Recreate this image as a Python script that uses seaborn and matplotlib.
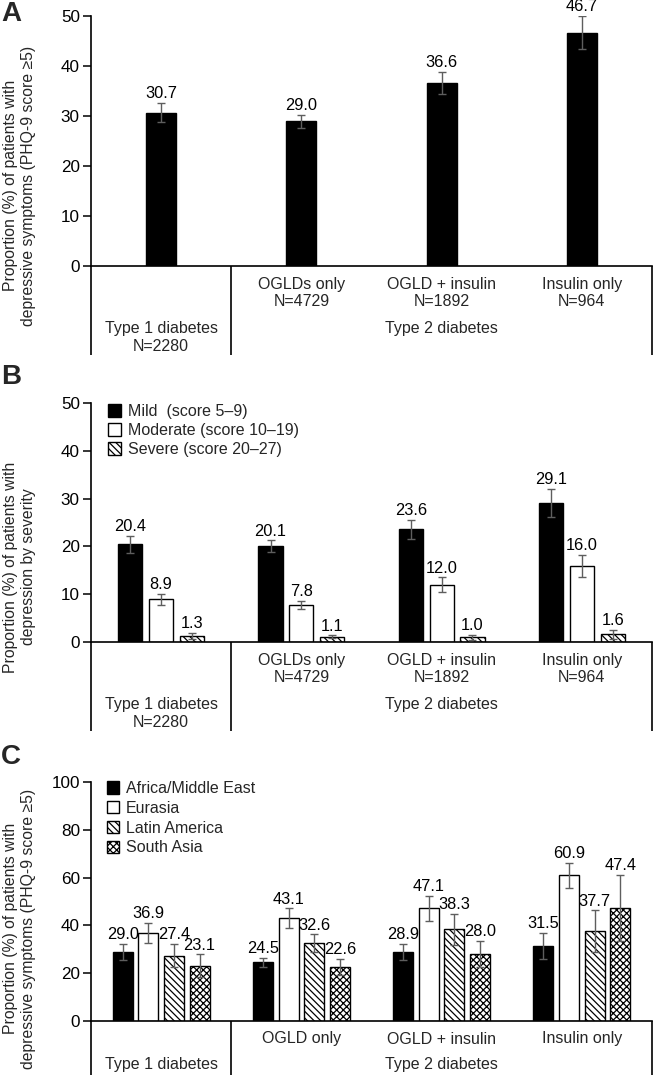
import numpy as np
import pandas as pd
import matplotlib
matplotlib.use("Agg")
import matplotlib.pyplot as plt
from matplotlib.patches import Patch
import seaborn as sns

# ---------------- data ----------------
groups_ab = ["Type 1 diabetes", "OGLDs only", "OGLD + insulin", "Insulin only"]
n_ab = ["N=2280", "N=4729", "N=1892", "N=964"]
groups_c = ["Type 1 diabetes", "OGLD only", "OGLD + insulin", "Insulin only"]
type2_label = "Type 2 diabetes"

a_values = [30.7, 29.0, 36.6, 46.7]
a_errors = [1.9, 1.3, 2.2, 3.3]

severity_labels = ["Mild  (score 5–9)", "Moderate (score 10–19)", "Severe (score 20–27)"]
mild = [20.4, 20.1, 23.6, 29.1]
mild_err = [1.8, 1.2, 2.0, 3.0]
moderate = [8.9, 7.8, 12.0, 16.0]
moderate_err = [1.2, 0.8, 1.5, 2.3]
severe = [1.3, 1.1, 1.0, 1.6]
severe_err = [0.6, 0.3, 0.5, 0.9]

region_labels = ["Africa/Middle East", "Eurasia", "Latin America", "South Asia"]
africa = [29.0, 24.5, 28.9, 31.5]
africa_err = [3.4, 2.0, 3.5, 5.4]
eurasia = [36.9, 43.1, 47.1, 60.9]
eurasia_err = [4.2, 4.0, 5.2, 5.4]
latin = [27.4, 32.6, 38.3, 37.7]
latin_err = [5.0, 3.7, 6.6, 8.7]
south_asia = [23.1, 22.6, 28.0, 47.4]
south_asia_err = [4.8, 3.4, 5.6, 13.8]

ylabel_a = "Proportion (%) of patients with\ndepressive symptoms (PHQ-9 score ≥5)"
ylabel_b = "Proportion (%) of patients with\ndepression by severity"
ylabel_c = "Proportion (%) of patients with\ndepressive symptoms (PHQ-9 score ≥5)"

# ---------------- style ----------------
sns.set_style("ticks")
plt.rcParams["font.family"] = ["Liberation Sans", "DejaVu Sans"]
plt.rcParams["hatch.linewidth"] = 0.9
plt.rcParams["hatch.color"] = "black"

W, H, DPI = 653, 1075, 100
fig = plt.figure(figsize=(W / DPI, H / DPI), dpi=DPI)

LEFT, RIGHT = 91, 652
def add_axes(top_px, bottom_px):
    return fig.add_axes([LEFT / W, 1 - bottom_px / H, (RIGHT - LEFT) / W,
                         (bottom_px - top_px) / H])

axA = add_axes(16, 266)
axB = add_axes(403, 642)
axC = add_axes(782, 1021)

ERR_KW = dict(fmt="none", ecolor="#5e5e5e", elinewidth=1.0, capsize=3,
              capthick=1.0, zorder=5)
FS = 11.5


def style_axis(ax, ymax, step):
    ax.set_xlim(-0.5, 3.5)
    ax.set_ylim(0, ymax)
    ax.set_yticks(np.arange(0, ymax + 1, step))
    ax.set_xlabel("")
    ax.set_ylabel("")
    for s in ["top", "right"]:
        ax.spines[s].set_visible(False)
    for s in ["left", "bottom"]:
        ax.spines[s].set_linewidth(1.2)
        ax.spines[s].set_color("black")
    ax.tick_params(axis="y", length=5.5, width=1.1, labelsize=12.3, pad=2.5,
                   direction="out", colors="black")
    ax.tick_params(axis="x", length=0, labelbottom=False)


def errors_and_labels(ax, err_lists):
    for cont, errs in zip(ax.containers, err_lists):
        for bar, e in zip(cont, errs):
            cx = bar.get_x() + bar.get_width() / 2
            h = bar.get_height()
            ax.errorbar(cx, h, yerr=e, **ERR_KW)
            ax.annotate(f"{h:.1f}", (cx, h + e), xytext=(0, 3.3),
                        textcoords="offset points", ha="center", va="baseline",
                        fontsize=11.8, color="black", zorder=6)


def table(ax, depth_px):
    ah = ax.get_position().height * H
    tr = ax.get_xaxis_transform()
    for x in [-0.5, 0.5, 3.5]:
        ax.plot([x, x], [0, -depth_px / ah], transform=tr, color="black",
                lw=1.2, clip_on=False, solid_capstyle="butt")
    return ah, tr


def table_ab(ax):
    ah, tr = table(ax, 89)
    for i in range(1, 4):
        ax.text(i, -27 / ah, f"{groups_ab[i]}\n{n_ab[i]}", transform=tr,
                ha="center", va="center", fontsize=FS, linespacing=1.2)
    ax.text(0, -71.5 / ah, f"{groups_ab[0]}\n{n_ab[0]}", transform=tr,
            ha="center", va="center", fontsize=FS, linespacing=1.2)
    ax.text(2, -62 / ah, type2_label, transform=tr, ha="center", va="center",
            fontsize=FS)


def table_c(ax):
    ah, tr = table(ax, 56)
    for i in range(1, 4):
        ax.text(i, -18 / ah, groups_c[i], transform=tr, ha="center",
                va="center", fontsize=FS)
    ax.text(0, -43 / ah, groups_c[0], transform=tr, ha="center", va="center",
            fontsize=FS)
    ax.text(2, -43 / ah, type2_label, transform=tr, ha="center", va="center",
            fontsize=FS)


# ---------------- Panel A ----------------
sns.barplot(x=groups_ab, y=a_values, order=groups_ab, color="black",
            saturation=1, width=0.214, edgecolor="black", linewidth=1,
            errorbar=None, ax=axA)
style_axis(axA, 50, 10)
errors_and_labels(axA, [a_errors])
table_ab(axA)

# ---------------- Panel B ----------------
dfB = pd.DataFrame({
    "group": groups_ab * 3,
    "severity": sum([[s] * 4 for s in severity_labels], []),
    "value": mild + moderate + severe,
})
sns.barplot(data=dfB, x="group", y="value", hue="severity", order=groups_ab,
            hue_order=severity_labels, palette=["black", "white", "white"],
            saturation=1, width=0.66, gap=0.22, edgecolor="black", linewidth=1,
            errorbar=None, legend=False, ax=axB)
for bar in axB.containers[2]:
    bar.set_hatch("\\\\\\\\\\")
style_axis(axB, 50, 10)
errors_and_labels(axB, [mild_err, moderate_err, severe_err])
table_ab(axB)
hB = [Patch(facecolor="black", edgecolor="black"),
      Patch(facecolor="white", edgecolor="black"),
      Patch(facecolor="white", edgecolor="black", hatch="\\\\\\\\\\")]
axB.legend(hB, severity_labels, loc="upper left", bbox_to_anchor=(0.03, 0.996),
           frameon=False, handlelength=0.8, handleheight=0.8,
           handletextpad=0.45, labelspacing=0.25, borderaxespad=0,
           borderpad=0, fontsize=FS)

# ---------------- Panel C ----------------
dfC = pd.DataFrame({
    "group": groups_c * 4,
    "region": sum([[r] * 4 for r in region_labels], []),
    "value": africa + eurasia + latin + south_asia,
})
sns.barplot(data=dfC, x="group", y="value", hue="region", order=groups_c,
            hue_order=region_labels, palette=["black", "white", "white", "white"],
            saturation=1, width=0.73, gap=0.22, edgecolor="black", linewidth=1,
            errorbar=None, legend=False, ax=axC)
for bar in axC.containers[2]:
    bar.set_hatch("\\\\\\\\\\")
for bar in axC.containers[3]:
    bar.set_hatch("xxxxx")
style_axis(axC, 100, 20)
errors_and_labels(axC, [africa_err, eurasia_err, latin_err, south_asia_err])
table_c(axC)
hC = [Patch(facecolor="black", edgecolor="black"),
      Patch(facecolor="white", edgecolor="black"),
      Patch(facecolor="white", edgecolor="black", hatch="\\\\\\\\\\"),
      Patch(facecolor="white", edgecolor="black", hatch="xxxxx")]
axC.legend(hC, region_labels, loc="upper left", bbox_to_anchor=(0.028, 1.004),
           frameon=False, handlelength=0.8, handleheight=0.8,
           handletextpad=0.4, labelspacing=0.3, borderaxespad=0,
           borderpad=0, fontsize=FS)

# ---------------- y labels and panel letters ----------------
for lab, yc in [(ylabel_a, 185.5), (ylabel_b, 567), (ylabel_c, 928.5)]:
    fig.text(20 / W, 1 - yc / H, lab, rotation=90, ha="center", va="center",
             fontsize=11.3, linespacing=1.25, multialignment="center")

for letter, (xp, yp) in [("A", (11, 14)), ("B", (11, 377)), ("C", (11, 757))]:
    fig.text(xp / W, 1 - yp / H, letter, fontsize=20, fontweight="bold",
             ha="center", va="center")

fig.savefig("out.png", dpi=DPI)
